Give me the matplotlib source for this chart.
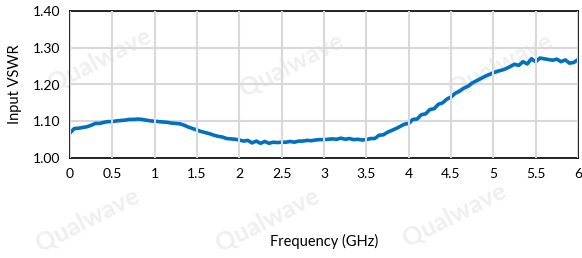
import matplotlib
matplotlib.use('Agg')
import matplotlib.pyplot as plt

# frequency (GHz) and input VSWR
freq = [i * 0.05 for i in range(121)]
vswr = [
    1.068, 1.080, 1.081, 1.083, 1.085, 1.089, 1.094, 1.094, 1.097, 1.099,
    1.099, 1.101, 1.102, 1.103, 1.105, 1.105, 1.106, 1.105, 1.103, 1.101,
    1.100, 1.099, 1.098, 1.097, 1.095, 1.094, 1.093, 1.089, 1.084, 1.080,
    1.076, 1.072, 1.069, 1.066, 1.062, 1.059, 1.057, 1.053, 1.052, 1.051,
    1.049, 1.046, 1.048, 1.041, 1.046, 1.040, 1.045, 1.040, 1.043, 1.042,
    1.043, 1.043, 1.045, 1.043, 1.046, 1.046, 1.048, 1.047, 1.049, 1.050,
    1.050, 1.051, 1.052, 1.051, 1.054, 1.051, 1.053, 1.050, 1.051, 1.049,
    1.050, 1.053, 1.053, 1.062, 1.063, 1.070, 1.075, 1.080, 1.086, 1.092,
    1.094, 1.105, 1.106, 1.118, 1.120, 1.132, 1.134, 1.146, 1.150, 1.160,
    1.166, 1.176, 1.182, 1.190, 1.195, 1.204, 1.210, 1.216, 1.222, 1.227,
    1.232, 1.236, 1.239, 1.243, 1.249, 1.255, 1.252, 1.262, 1.256, 1.270,
    1.262, 1.272, 1.270, 1.268, 1.266, 1.269, 1.262, 1.267, 1.258, 1.260,
    1.268,
]
xticks = [0, 0.5, 1, 1.5, 2, 2.5, 3, 3.5, 4, 4.5, 5, 5.5, 6]
xtick_labels = ['0', '0.5', '1', '1.5', '2', '2.5', '3', '3.5', '4', '4.5', '5', '5.5', '6']
yticks = [1.00, 1.10, 1.20, 1.30, 1.40]

plt.rcParams['font.family'] = ['Lato', 'DejaVu Sans']

fig = plt.figure(figsize=(5.82, 2.58), dpi=100)
ax = fig.add_axes([70 / 582, 1 - 158 / 258, 508 / 582, 147 / 258])

# faint watermark, kept under everything else
for (wx, wy) in [(0.17, 0.77), (0.50, 0.75), (0.86, 0.75), (0.15, 0.15), (0.46, 0.15), (0.78, 0.17)]:
    ax.text(wx, wy, 'Qualwave', fontsize=18, color='#efefef', rotation=27,
            ha='center', va='center', fontweight='bold', transform=fig.transFigure,
            zorder=0.1, clip_on=False)

ax.plot(freq, vswr, color='#0070C0', linewidth=2.6, zorder=3)

ax.set_xlim(0, 6)
ax.set_ylim(1.0, 1.4)
ax.set_xticks(xticks)
ax.set_xticklabels(xtick_labels)
ax.set_yticks(yticks)
ax.set_yticklabels(['%.2f' % v for v in yticks])
ax.grid(True, color='#d9d9d9', linewidth=1.5, zorder=0.5)
ax.set_axisbelow(True)
ax.patch.set_alpha(0)
ax.tick_params(length=0, labelsize=10, pad=7, colors='black')
for s in ax.spines.values():
    s.set_linewidth(1.2)
    s.set_color('black')
    s.set_zorder(4)

ax.set_ylabel('Input VSWR', fontsize=10.5, labelpad=8)
ax.set_xlabel('Frequency (GHz)', fontsize=10.5, va='center')
ax.xaxis.set_label_coords(0.5, -0.565)
ax.xaxis.label.set_zorder(5)
ax.xaxis.set_zorder(5)

fig.savefig('out.png', dpi=100)
